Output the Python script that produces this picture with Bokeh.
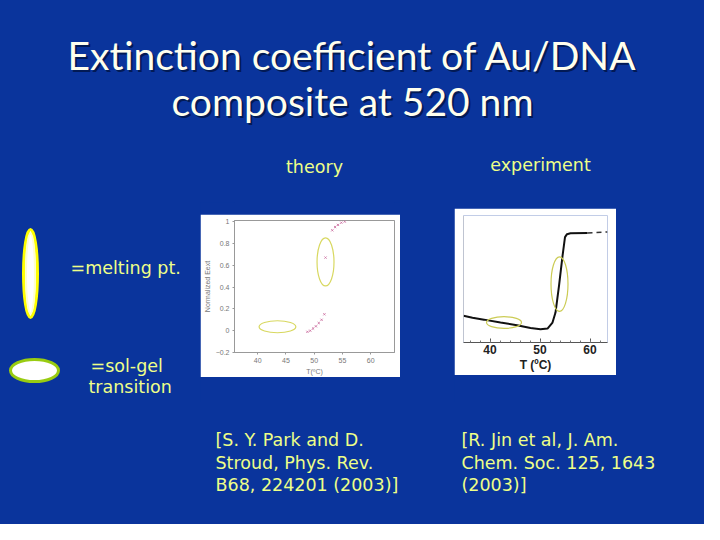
from bokeh.plotting import figure
from bokeh.layouts import column, row
from bokeh.models import Range1d, FixedTicker, Span
from bokeh.core.properties import value
from bokeh.embed import file_html
from bokeh.resources import INLINE

# ---------------- data ----------------
title_lines = ["Extinction coefficient of Au/DNA", "composite at 520 nm"]
panel_labels = ["theory", "experiment"]
legend_labels = ["=melting pt.", "=sol-gel", "transition"]
cite_theory = ["[S. Y. Park and D.", "Stroud,  Phys. Rev.", "B68, 224201 (2003)]"]
cite_exp = ["[R. Jin et al, J. Am.", "Chem. Soc. 125, 1643", "(2003)]"]

# theory: normalized extinction vs T
theory_T = [48.8, 49.3, 49.8, 50.3, 50.8, 51.3, 51.8, 52.0, 53.2, 53.7, 54.2, 54.8, 55.4]
theory_E = [-0.01, 0.0, 0.02, 0.04, 0.07, 0.10, 0.15, 0.67, 0.92, 0.95, 0.97, 0.99, 1.0]
theory_xticks = [40, 45, 50, 55, 60]
theory_yticks = [-0.2, 0, 0.2, 0.4, 0.6, 0.8, 1.0]

# experiment: extinction curve vs T
exp_T = [34.7, 36.5, 38.8, 42.1, 45.4, 48.1, 50.1, 51.5, 52.5, 53.1, 53.8, 54.5, 55.0, 55.4, 56.1, 59.5]
exp_E = [0.21, 0.195, 0.18, 0.157, 0.136, 0.115, 0.105, 0.11, 0.157, 0.236, 0.446, 0.68, 0.83, 0.853, 0.86, 0.862]
exp_dash_T = [59.5, 63.5]
exp_dash_E = [0.862, 0.87]
exp_xticks = [40, 50, 60]

# marked regions (center x, center y, width, height) in data units
theory_melt = (52.0, 0.63, 3.0, 0.44)
theory_solgel = (43.5, 0.036, 6.5, 0.11)
exp_melt = (53.9, 0.46, 3.4, 0.43)
exp_solgel = (42.8, 0.157, 7.0, 0.092)

BLUE = "#0A349C"
YEL = "#EEFF88"
TITLE_C = "#FFFFEE"
FONT = "DejaVu Sans"
BG = {"background-color": BLUE}


def blank(w, h, xr=None, yr=None):
    xr = xr or (0, w)
    yr = yr or (h, 0)
    f = figure(width=w, height=h, x_range=Range1d(*xr), y_range=Range1d(*yr),
               output_backend="svg", toolbar_location=None, min_border=0,
               x_axis_location=None, y_axis_location=None,
               background_fill_color=BLUE, border_fill_color=BLUE,
               outline_line_color=None, styles=BG)
    f.grid.visible = False
    return f


# ---------------- top: title + panel labels ----------------
top = blank(704, 202)
for i, t in enumerate(title_lines):
    top.text(x=[352 + 2], y=[54 + 46 * i + 2], text=[t], text_align="center", text_baseline="middle",
             text_font=value("Lato"), text_font_size="39px", text_color="#021a55")
    top.text(x=[352], y=[54 + 46 * i], text=[t], text_align="center", text_baseline="middle",
             text_font=value("Lato"), text_font_size="39px", text_color=TITLE_C)
top.text(x=[314, 540], y=[166, 164], text=panel_labels, text_align="center", text_baseline="middle",
         text_font=value(FONT), text_font_size="17.5px", text_color=YEL)

# ---------------- left legend ----------------
left = blank(200, 200)
left.ellipse(x=[30], y=[71], width=[14], height=[88], fill_color="white",
             line_color="#FFFF00", line_width=3)
left.ellipse(x=[30], y=[71], width=[9], height=[80], fill_color=None,
             line_color="#FFFFCC", line_width=2)
left.ellipse(x=[34], y=[168], width=[48], height=[22], fill_color="white",
             line_color="#99CC11", line_width=3)
left.text(x=[70, 90, 88], y=[65, 163, 184], text=legend_labels, text_align="left",
          text_baseline="middle", text_font=value(FONT), text_font_size="17.5px", text_color=YEL)

# ---------------- theory panel ----------------
th = figure(width=200, height=163, x_range=Range1d(35.9, 64.2), y_range=Range1d(-0.2, 1.01),
            output_backend="svg", toolbar_location=None,
            min_border_left=34, min_border_right=6, min_border_top=6, min_border_bottom=25,
            background_fill_color="white", border_fill_color="white",
            outline_line_color="#999999")
th.grid.visible = False
th.xaxis.ticker = FixedTicker(ticks=theory_xticks)
th.yaxis.ticker = FixedTicker(ticks=theory_yticks)
th.xaxis.axis_label = "T(ºC)"
th.yaxis.axis_label = "Normalized Eext"
for ax in (th.xaxis, th.yaxis):
    ax.major_label_text_font_size = "7px"
    ax.major_label_text_color = "#777777"
    ax.axis_label_text_font_size = "7px"
    ax.axis_label_text_color = "#777777"
    ax.axis_label_text_font_style = "normal"
    ax.axis_label_standoff = 2
    ax.major_label_standoff = 3
    ax.axis_line_color = "#999999"
    ax.major_tick_line_color = "#999999"
    ax.major_tick_in = 0
    ax.major_tick_out = 2
    ax.minor_tick_line_color = None
th.scatter(theory_T, theory_E, marker="x", size=3, line_color="#D07AA8", line_width=1)
for (cx, cy, w, h) in (theory_melt, theory_solgel):
    th.ellipse(x=[cx], y=[cy], width=[w], height=[h], fill_color=None,
               line_color="#D8D860", line_width=1.2)

# ---------------- experiment panel ----------------
ex = figure(width=162, height=167, x_range=Range1d(34.7, 63.5), y_range=Range1d(0, 1.0),
            output_backend="svg", toolbar_location=None, y_axis_location=None,
            min_border_left=9, min_border_right=9, min_border_top=7, min_border_bottom=33,
            background_fill_color="white", border_fill_color="white",
            outline_line_color=None)
ex.grid.visible = False
ex.xaxis.ticker = FixedTicker(ticks=exp_xticks, minor_ticks=list(range(36, 64, 2)))
ex.xaxis.axis_label = "T (ºC)"
ex.xaxis.major_label_text_font = "Liberation Sans"
ex.xaxis.major_label_text_font_style = "bold"
ex.xaxis.major_label_text_font_size = "12px"
ex.xaxis.major_label_text_color = "#222222"
ex.xaxis.major_label_standoff = 2
ex.xaxis.axis_label_text_font = "Liberation Sans"
ex.xaxis.axis_label_text_font_style = "bold"
ex.xaxis.axis_label_text_font_size = "12px"
ex.xaxis.axis_label_text_color = "#222222"
ex.xaxis.axis_label_standoff = 1
ex.xaxis.axis_line_color = "#555555"
ex.xaxis.major_tick_in = 4
ex.xaxis.major_tick_out = 0
ex.xaxis.minor_tick_in = 2
ex.xaxis.minor_tick_out = 0
ex.xaxis.major_tick_line_color = "#555555"
ex.xaxis.minor_tick_line_color = "#777777"
ex.add_layout(Span(location=exp_T[0], dimension="height", line_color="#BBBBBB", line_width=1))
ex.line(exp_T, exp_E, line_color="#111111", line_width=2)
ex.line(exp_dash_T, exp_dash_E, line_color="#333333", line_width=1.5, line_dash="5 4")
for (cx, cy, w, h) in (exp_melt, exp_solgel):
    ex.ellipse(x=[cx], y=[cy], width=[w], height=[h], fill_color=None,
               line_color="#CCCC55", line_width=1.2)

# ---------------- bottom: citations ----------------
bot = blank(704, 122)
bot.text(x=[215] * 3, y=[37.5, 60, 82.5], text=cite_theory, text_align="left", text_baseline="middle",
         text_font=value(FONT), text_font_size="17.5px", text_color=YEL)
bot.text(x=[461] * 3, y=[37.5, 60, 82.5], text=cite_exp, text_align="left", text_baseline="middle",
         text_font=value(FONT), text_font_size="17.5px", text_color=YEL)

middle = row(
    left,
    column(blank(200, 12), th, blank(200, 25), styles=BG, spacing=0),
    blank(54, 200),
    column(blank(162, 6), ex, blank(162, 27), styles=BG, spacing=0),
    blank(88, 200),
    styles=BG, spacing=0,
)
layout = column(top, middle, bot, styles=BG, spacing=0)

open("out.html", "w").write(file_html(layout, INLINE))
